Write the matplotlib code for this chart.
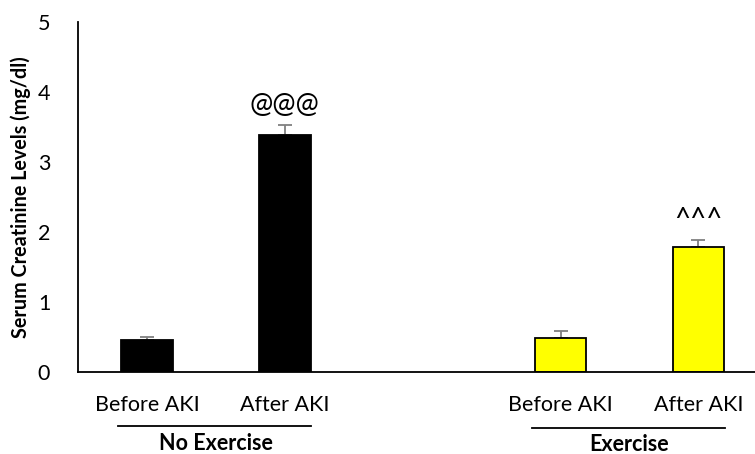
import numpy as np
from matplotlib import pyplot as plt
from matplotlib.transforms import blended_transform_factory

plt.rcParams["font.family"] = ["Lato", "DejaVu Sans"]

# serum creatinine, mean and upper error
groups = ["No Exercise", "Exercise"]
conditions = ["Before AKI", "After AKI", "Before AKI", "After AKI"]
means = [0.46, 3.39, 0.49, 1.79]
errors = [0.04, 0.14, 0.09, 0.10]
colors = ["black", "black", "yellow", "yellow"]
marks = ["", "@@@", "", "^^^"]
positions = [0, 1, 3, 4]

fig = plt.figure(figsize=(7.55, 4.54), dpi=100)
ax = fig.add_axes([0.1033, 0.1806, 0.8967, 0.7709])

ax.bar(positions, means, width=0.375, color=colors, edgecolor="black",
       linewidth=1.3, zorder=2)
ax.errorbar(positions, means, yerr=[np.zeros(len(errors)), errors], fmt="none",
            ecolor="#808080", elinewidth=1.3, capsize=5, capthick=1.3, zorder=1)

for x, m, e, s in zip(positions, means, errors, marks):
    if s:
        ax.text(x, m + e + 0.1, s, ha="center", va="bottom", fontsize=20)

ax.set_xlim(-0.5, 4.41)
ax.set_ylim(0, 5)
ax.set_yticks(range(6))
ax.tick_params(axis="y", length=0, pad=20, labelsize=15.5)
ax.set_xticks([])
ax.spines[["top", "right"]].set_visible(False)
ax.spines[["left", "bottom"]].set_linewidth(1.3)
ax.set_ylabel("Serum Creatinine Levels (mg/dl)", fontsize=14.2,
              fontweight="bold", labelpad=5)

trans = blended_transform_factory(ax.transData, ax.transAxes)
for x, c in zip(positions, conditions):
    ax.text(x, -0.095, c, transform=trans, ha="center", va="center",
            fontsize=15.5)

# group brackets below the condition labels
for g, (a, b), yl, yt in zip(groups, [(0, 1), (3, 4)], [-0.155, -0.160],
                             [-0.203, -0.207]):
    ax.plot([a - 0.21, b + 0.19], [yl, yl], color="black", lw=1.3,
            transform=trans, clip_on=False)
    ax.text((a + b) / 2, yt, g, transform=trans, ha="center", va="center",
            fontsize=15.5, fontweight="bold")

plt.savefig("out.png")
